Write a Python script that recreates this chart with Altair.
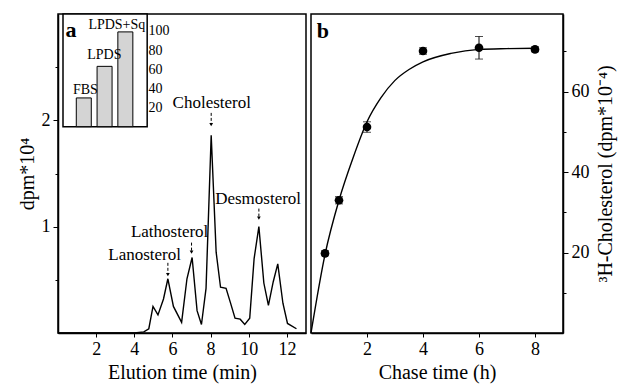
import altair as alt
import pandas as pd

FONT = "Liberation Serif"

# ---------------- Panel a: elution profile ----------------
elution_time = [0, 1, 2, 3, 4, 4.5, 4.76, 4.98, 5.24, 5.53, 5.76, 6.05, 6.48, 6.76, 7.03,
                7.29, 7.52, 7.76, 8.03, 8.29, 8.52, 8.81, 9.03, 9.28, 9.55, 9.79, 10.05,
                10.28, 10.53, 10.79, 11.03, 11.28, 11.52, 11.79, 12.03, 12.5]
dpm = [0, 0, 0, 0, 0, 0.01, 0.04, 0.25, 0.17, 0.32, 0.51, 0.25, 0.10, 0.51, 0.71,
       0.21, 0.08, 0.42, 1.86, 0.76, 0.43, 0.42, 0.29, 0.14, 0.13, 0.08, 0.14,
       0.70, 1.00, 0.47, 0.26, 0.48, 0.65, 0.28, 0.09, 0.04]

peak_names = ["Lanosterol", "Lathosterol", "Cholesterol", "Desmosterol"]
peak_label_x = [4.54, 5.85, 8.06, 10.49]
peak_label_y = [0.73, 0.95, 2.16, 1.26]
arrow_x = [5.76, 7.0, 8.03, 10.53]
arrow_top = [0.66, 0.85, 2.07, 1.17]
arrow_bottom = [0.55, 0.76, 1.96, 1.08]

# inset bar chart
inset_groups = ["FBS", "LPDS", "LPDS+Sq"]
inset_pos = [1, 2, 3]
inset_values = [30, 63, 99]
inset_label_x = [1.08, 1.99, 2.59]
inset_label_y = [34, 71, 102]

# ---------------- Panel b: chase ----------------
chase_time = [0.5, 1, 2, 4, 6, 8]
chol = [19.8, 33.0, 51.2, 70.1, 70.9, 70.5]
chol_err = [0.6, 0.9, 1.3, 0.8, 2.8, 0.6]
fit_time = [0, 0.5, 1, 1.5, 2, 2.5, 3, 3.5, 4, 5, 6, 7, 8]
fit_chol = [0, 19.5, 33, 43.5, 52.5, 58.5, 62.8, 65.5, 67.4, 69.5, 70.5, 70.7, 70.8]

xa_ticks = [2, 4, 6, 8, 10, 12]
xb_ticks = [2, 4, 6, 8]

TITLE_XA = "Elution time (min)"
TITLE_YA = "dpm*10⁴"
TITLE_XB = "Chase time (h)"
TITLE_YB = "³H-Cholesterol (dpm*10⁻⁴)"

# ---------------- build panel a ----------------
sx_a = alt.Scale(domain=[0, 13], nice=False, zero=False)
sy_a = alt.Scale(domain=[0, 3], nice=False, zero=False)

ax_x_a = alt.Axis(values=xa_ticks, format="d", tickSize=4, title=TITLE_XA)
ax_y_a = alt.Axis(values=[0.5, 1, 1.5, 2, 2.5], labelOverlap=False, format="~g",
                  labelExpr="(datum.value == 1 || datum.value == 2) ? datum.label : ''",
                  tickSize={"condition": {"test": "datum.value % 1 != 0", "value": 3}, "value": 5},
                  title=TITLE_YA)

prof_df = pd.DataFrame({"t": elution_time, "v": dpm})
line_a = alt.Chart(prof_df).mark_line(color="black", strokeWidth=1.4).encode(
    x=alt.X("t:Q", scale=sx_a, axis=ax_x_a),
    y=alt.Y("v:Q", scale=sy_a, axis=ax_y_a),
)

lab_df = pd.DataFrame({"name": peak_names, "t": peak_label_x, "v": peak_label_y})
labels_a = alt.Chart(lab_df).mark_text(font=FONT, fontSize=17, color="black",
                                       baseline="middle", align="center").encode(
    x=alt.X("t:Q", scale=sx_a, title=TITLE_XA),
    y=alt.Y("v:Q", scale=sy_a, title=TITLE_YA),
    text="name:N",
)

arr_df = pd.DataFrame({"t": arrow_x, "top": arrow_top, "bot": arrow_bottom})
arrow_rules = alt.Chart(arr_df).mark_rule(color="black", strokeWidth=1, strokeDash=[3, 2]).encode(
    x=alt.X("t:Q", scale=sx_a, title=TITLE_XA),
    y=alt.Y("top:Q", scale=sy_a, title=TITLE_YA),
    y2="bot:Q",
)
arrow_heads = alt.Chart(arr_df).mark_point(shape="triangle-down", filled=True, size=14,
                                           color="black", opacity=1).encode(
    x=alt.X("t:Q", scale=sx_a, title=TITLE_XA),
    y=alt.Y("bot:Q", scale=sy_a, title=TITLE_YA),
)

main_a = alt.layer(line_a, labels_a, arrow_rules, arrow_heads)

# inset
sx_i = alt.Scale(domain=[0, 11.45], nice=False, zero=False)
sy_i = alt.Scale(domain=[-215.6, 117.7], nice=False, zero=False)
ax_y_i = alt.Axis(orient="right", offset=-163, domain=False, values=[20, 40, 60, 80, 100],
                  title=None, labelFontSize=14, tickSize=3, labelPadding=2)

frame_df = pd.DataFrame({"p": [0], "p2": [4.05], "v": [117.7], "v2": [0]})
frame_i = alt.Chart(frame_df).mark_rect(fill="white", stroke="black", strokeWidth=1.5).encode(
    x=alt.X("p:Q", scale=sx_i, axis=None),
    x2="p2:Q",
    y=alt.Y("v:Q", scale=sy_i, axis=ax_y_i),
    y2="v2:Q",
)
bar_df = pd.DataFrame({"p": inset_pos, "v": inset_values, "g": inset_groups})
bars_i = alt.Chart(bar_df).mark_bar(size=15, fill="#d4d4d4", stroke="black", strokeWidth=1).encode(
    x=alt.X("p:Q", scale=sx_i, axis=None),
    y=alt.Y("v:Q", scale=sy_i),
    y2=alt.datum(0),
)
blab_df = pd.DataFrame({"p": inset_label_x, "v": inset_label_y, "g": inset_groups})
blabels_i = alt.Chart(blab_df).mark_text(font=FONT, fontSize=14, color="black",
                                         baseline="alphabetic", align="center").encode(
    x=alt.X("p:Q", scale=sx_i, axis=None),
    y=alt.Y("v:Q", scale=sy_i),
    text="g:N",
)
tag_a_df = pd.DataFrame({"p": [0.38], "v": [101], "g": ["a"]})
tag_a = alt.Chart(tag_a_df).mark_text(font=FONT, fontSize=22, fontWeight="bold", color="black",
                                      baseline="middle", align="center").encode(
    x=alt.X("p:Q", scale=sx_i, axis=None),
    y=alt.Y("v:Q", scale=sy_i),
    text="g:N",
)
inset = alt.layer(frame_i, bars_i, blabels_i, tag_a)

panel_a = alt.layer(main_a, inset).resolve_scale(x="independent", y="independent").properties(
    width=248, height=319)

# ---------------- build panel b ----------------
sx_b = alt.Scale(domain=[0, 9], nice=False, zero=False)
sy_b = alt.Scale(domain=[0, 79.3], nice=False, zero=False)
ax_x_b = alt.Axis(values=xb_ticks, format="d", tickSize=4, title=TITLE_XB)
ax_y_b = alt.Axis(orient="right", values=[10, 20, 30, 40, 50, 60, 70], labelOverlap=False,
                  format="d",
                  labelExpr="datum.value % 20 == 0 ? datum.label : ''",
                  tickSize={"condition": {"test": "datum.value % 20 != 0", "value": 3}, "value": 5},
                  title=TITLE_YB, titleAngle=270, titleBaseline="top", titlePadding=6)

fit_df = pd.DataFrame({"t": fit_time, "c": fit_chol})
curve_b = alt.Chart(fit_df).mark_line(color="black", strokeWidth=1.4, interpolate="monotone").encode(
    x=alt.X("t:Q", scale=sx_b, axis=ax_x_b),
    y=alt.Y("c:Q", scale=sy_b, axis=ax_y_b),
)
pts_df = pd.DataFrame({"t": chase_time, "c": chol, "err": chol_err})
err_b = alt.Chart(pts_df).transform_calculate(
    lo="datum.c - datum.err", hi="datum.c + datum.err"
).mark_errorbar(ticks={"size": 8}, color="black").encode(
    x=alt.X("t:Q", scale=sx_b, title=TITLE_XB),
    y=alt.Y("lo:Q", scale=sy_b, title=TITLE_YB),
    y2="hi:Q",
)
pts_b = alt.Chart(pts_df).mark_circle(size=75, color="black", opacity=1).encode(
    x=alt.X("t:Q", scale=sx_b, title=TITLE_XB),
    y=alt.Y("c:Q", scale=sy_b, title=TITLE_YB),
)
tag_b_df = pd.DataFrame({"t": [0.42], "c": [75], "g": ["b"]})
tag_b = alt.Chart(tag_b_df).mark_text(font=FONT, fontSize=22, fontWeight="bold", color="black",
                                      baseline="middle", align="center").encode(
    x=alt.X("t:Q", scale=sx_b, title=TITLE_XB),
    y=alt.Y("c:Q", scale=sy_b, title=TITLE_YB),
    text="g:N",
)
panel_b = alt.layer(curve_b, err_b, pts_b, tag_b).properties(width=252, height=319)

chart = alt.hconcat(panel_a, panel_b, spacing=0).properties(
    padding={"left": 16, "top": 12, "right": 5, "bottom": 5}
).configure_view(
    stroke="black", strokeWidth=1.5
).configure_axis(
    labelFont=FONT, titleFont=FONT, labelFontSize=18, titleFontSize=20,
    titleFontWeight="normal", labelColor="black", titleColor="black",
    tickColor="black", domainColor="black", domainWidth=1.5, tickWidth=1,
    labelPadding=3, titlePadding=4, grid=False,
)

chart.save("out.html", embed_options={"renderer": "svg", "actions": False})
